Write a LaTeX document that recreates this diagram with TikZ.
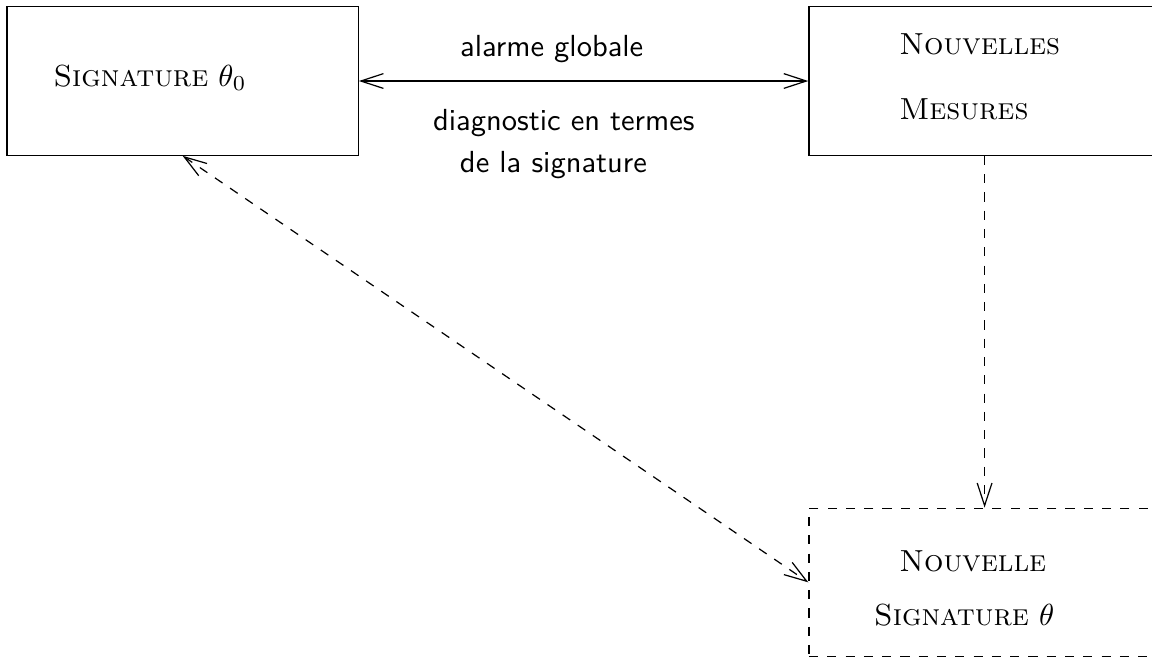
\documentclass[tikz,border=0pt]{standalone}
\usetikzlibrary{arrows.meta}
\begin{document}
\begin{tikzpicture}[>={Straight Barb[length=2.6mm,width=1.7mm]},
		box/.style={draw, minimum width=4.05cm, minimum height=1.71cm, inner sep=0pt},
		lbl/.style={anchor=base west, inner sep=0pt},
		txt/.style={anchor=base, inner sep=0pt, font=\sffamily}]
		\useasboundingbox (0,0) rectangle (13.28,7.59);

		\node[box] (sigzero) at (2.105,6.656) {};
		\node[lbl] (sigzerotxt) at (0.61,6.598) {\textsc{Signature} $\theta_0$};

		\node[box] (mesures) at (11.35,6.656) {};
		\node[lbl] (mestxta) at (10.36,6.956) {\textsc{Nouvelles}};
		\node[lbl] (mestxtb) at (10.36,6.217) {\textsc{Mesures}};

		\node[box, dashed] (newsig) at (11.35,0.877) {};
		\node[lbl] (newtxta) at (10.36,1.004) {\textsc{Nouvelle}};
		\node[lbl] (newtxtb) at (10.07,0.381) {\textsc{Signature} $\theta$};

		\draw[<->] (sigzero.east) -- (mesures.west);
		\node[txt] (alarme) at (6.36,6.944) {alarme globale};
		\node[txt] (diaga) at (6.50,6.09) {diagnostic en termes};
		\node[txt] (diagb) at (6.38,5.606) {de la signature};

		\draw[->, dashed] (mesures.south) -- (newsig.north);
		\draw[<->, dashed] (sigzero.south) -- (newsig.west);
	\end{tikzpicture}
\end{document}
